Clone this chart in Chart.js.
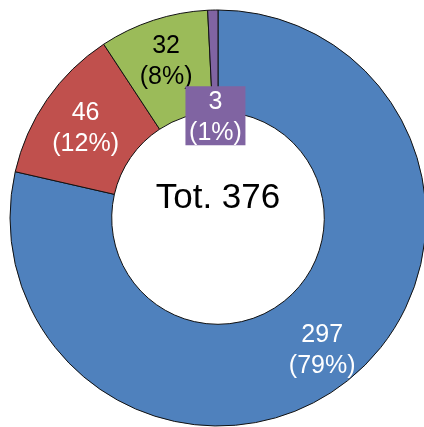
<!DOCTYPE html>
<html>
<head>
<meta charset="utf-8">
<script src="https://cdn.jsdelivr.net/npm/chart.js@4"></script>
<style>
  html, body { margin: 0; padding: 0; background: #fff; overflow: hidden; }
  #wrap { position: relative; width: 424px; height: 427px; }
</style>
</head>
<body>
<div id="wrap"><canvas id="c"></canvas></div>
<script>
const categories = ['A', 'B', 'C', 'D'];
const values = [297, 46, 32, 3];
const percentLabels = ['79%', '12%', '8%', '1%'];
const totalLabel = 'Tot. 376';

const sliceColors = ['#4F81BD', '#C0504D', '#9BBB59', '#8064A2'];
const labelColors = ['#FFFFFF', '#FFFFFF', '#000000', '#FFFFFF'];
const FONT = '"Liberation Sans", Arial, sans-serif';

const labelPlugin = {
  id: 'sliceLabels',
  afterDatasetsDraw(chart) {
    const ctx = chart.ctx;
    const meta = chart.getDatasetMeta(0);
    const lh = 31;
    const capHalf = 9;
    ctx.save();
    ctx.font = '25px ' + FONT;
    ctx.textAlign = 'center';
    ctx.textBaseline = 'alphabetic';
    meta.data.forEach((arc, i) => {
      const p = arc.getProps(['x', 'y', 'startAngle', 'endAngle', 'innerRadius', 'outerRadius'], true);
      const mid = (p.startAngle + p.endAngle) / 2;
      const small = i === values.length - 1;
      let r = (p.innerRadius + p.outerRadius) / 2 + (i === 1 ? 4 : 10);
      if (small) r = p.innerRadius - 4;
      const cx = p.x + Math.cos(mid) * r;
      const cy = p.y + Math.sin(mid) * r;
      const lines = [String(values[i]), '(' + percentLabels[i] + ')'];
      if (small) {
        ctx.fillStyle = sliceColors[i];
        ctx.fillRect(cx - 30, cy - 29.5, 60, 59);
      }
      ctx.fillStyle = labelColors[i];
      lines.forEach((t, k) => {
        const y = cy - (lines.length - 1) * lh / 2 + k * lh + capHalf;
        ctx.fillText(t, cx, y);
      });
    });
    const a0 = meta.data[0];
    ctx.fillStyle = '#000';
    ctx.font = '35px ' + FONT;
    ctx.fillText(totalLabel, a0.x, a0.y - 10);
    ctx.restore();
  }
};

new Chart(document.getElementById('c'), {
  type: 'doughnut',
  data: {
    labels: categories,
    datasets: [{
      data: values,
      backgroundColor: sliceColors,
      borderColor: '#111111',
      borderWidth: 1,
      hoverBorderWidth: 1,
      borderAlign: 'center'
    }]
  },
  options: {
    responsive: true,
    maintainAspectRatio: false,
    animation: false,
    radius: 208,
    cutout: 105,
    layout: { padding: { left: 12, right: 0, top: 9, bottom: 0 } },
    plugins: {
      legend: { display: false },
      tooltip: { enabled: false }
    }
  },
  plugins: [labelPlugin]
});
</script>
</body>
</html>
